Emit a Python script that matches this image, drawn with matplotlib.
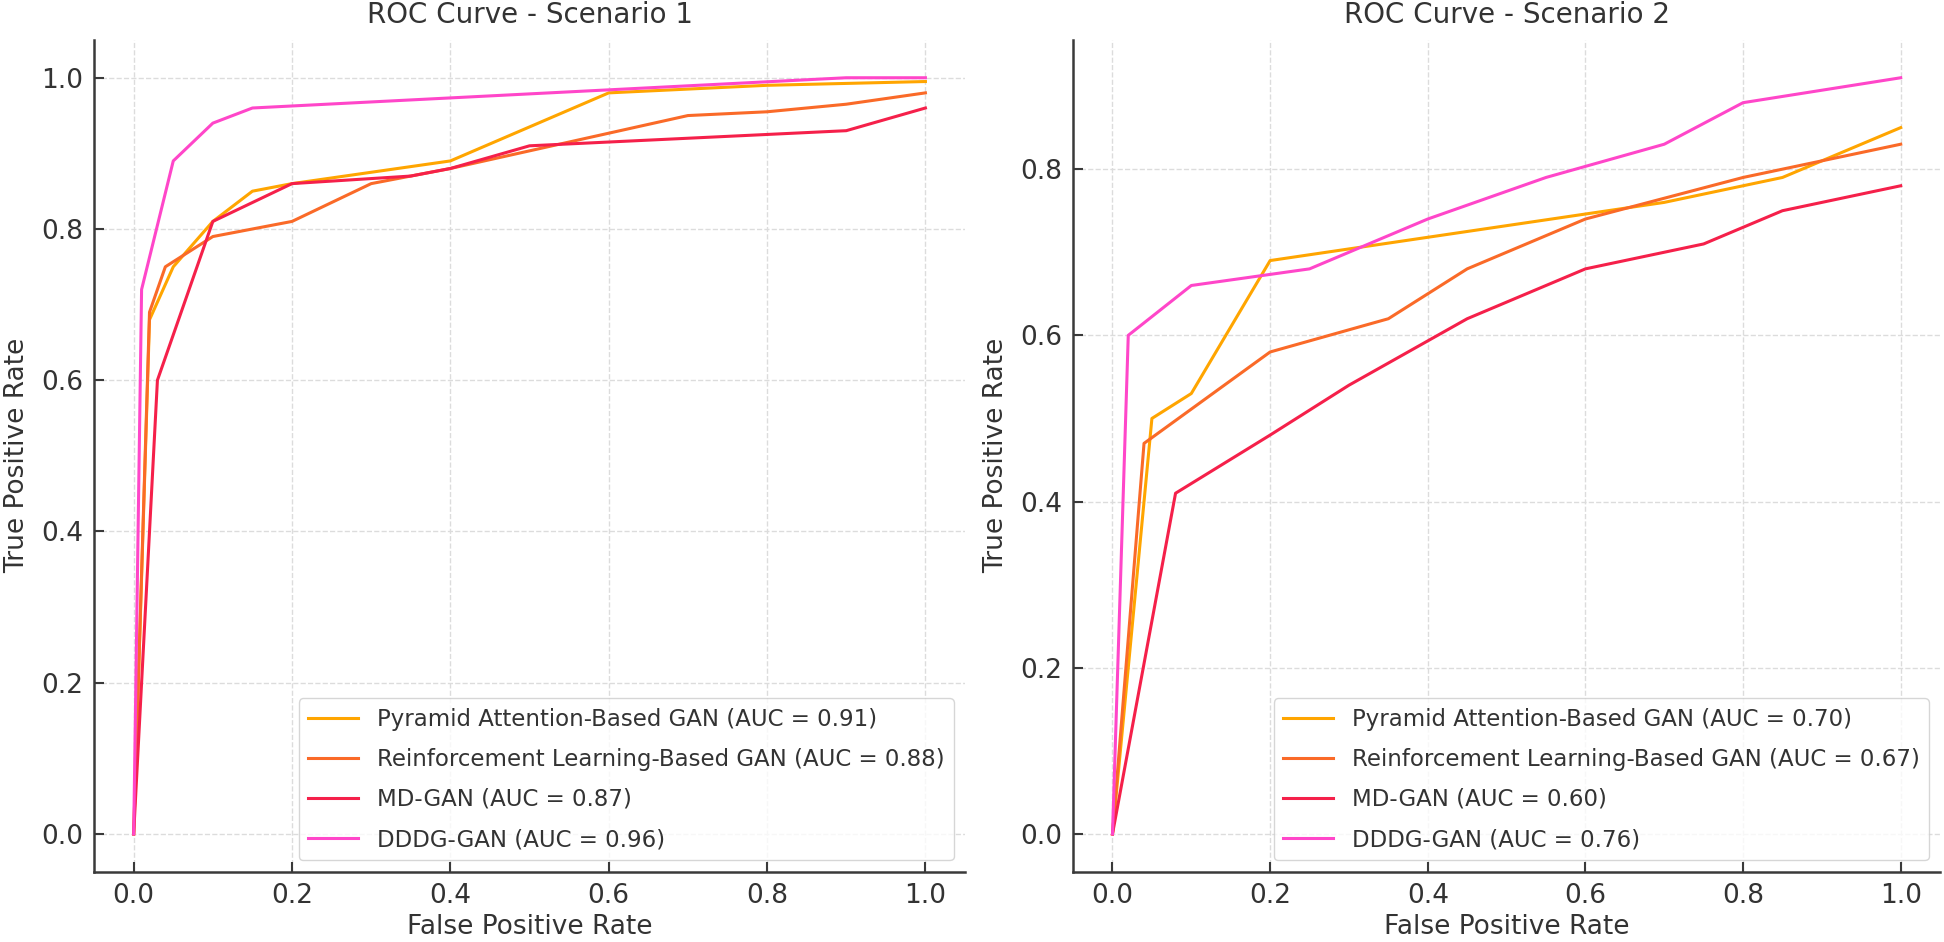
import numpy as np
import matplotlib.pyplot as plt

# Scenario 1
fpr_pag1 = [0, 0.02, 0.05, 0.1, 0.15, 0.2, 0.3, 0.4, 0.6, 0.8, 1.0]
tpr_pag1 = [0, 0.68, 0.75, 0.81, 0.85, 0.86, 0.875, 0.89, 0.98, 0.99, 0.995]
fpr_rl1 = [0, 0.02, 0.04, 0.1, 0.2, 0.3, 0.4, 0.7, 0.8, 0.9, 1.0]
tpr_rl1 = [0, 0.69, 0.75, 0.79, 0.81, 0.86, 0.88, 0.95, 0.955, 0.965, 0.98]
fpr_md1 = [0, 0.03, 0.1, 0.2, 0.35, 0.4, 0.5, 0.6, 0.9, 1.0]
tpr_md1 = [0, 0.60, 0.81, 0.86, 0.87, 0.88, 0.91, 0.915, 0.93, 0.96]
fpr_dddg1 = [0, 0.01, 0.05, 0.1, 0.15, 0.9, 1.0]
tpr_dddg1 = [0, 0.72, 0.89, 0.94, 0.96, 1.0, 1.0]
auc1 = [0.91, 0.88, 0.87, 0.96]

# Scenario 2
fpr_pag2 = [0, 0.05, 0.1, 0.2, 0.7, 0.85, 1.0]
tpr_pag2 = [0, 0.50, 0.53, 0.69, 0.76, 0.79, 0.85]
fpr_rl2 = [0, 0.04, 0.2, 0.35, 0.45, 0.6, 0.8, 1.0]
tpr_rl2 = [0, 0.47, 0.58, 0.62, 0.68, 0.74, 0.79, 0.83]
fpr_md2 = [0, 0.08, 0.2, 0.3, 0.45, 0.6, 0.75, 0.85, 1.0]
tpr_md2 = [0, 0.41, 0.48, 0.54, 0.62, 0.68, 0.71, 0.75, 0.78]
fpr_dddg2 = [0, 0.02, 0.1, 0.25, 0.4, 0.55, 0.7, 0.8, 1.0]
tpr_dddg2 = [0, 0.60, 0.66, 0.68, 0.74, 0.79, 0.83, 0.88, 0.91]
auc2 = [0.70, 0.67, 0.60, 0.76]

models = ['Pyramid Attention-Based GAN', 'Reinforcement Learning-Based GAN',
          'MD-GAN', 'DDDG-GAN']
colors = ['#FFA500', '#FA6A28', '#F5204A', '#FF46C9']

scenarios = [
    ('ROC Curve - Scenario 1',
     [(fpr_pag1, tpr_pag1), (fpr_rl1, tpr_rl1), (fpr_md1, tpr_md1), (fpr_dddg1, tpr_dddg1)],
     auc1),
    ('ROC Curve - Scenario 2',
     [(fpr_pag2, tpr_pag2), (fpr_rl2, tpr_rl2), (fpr_md2, tpr_md2), (fpr_dddg2, tpr_dddg2)],
     auc2),
]

txt = '#333333'
fig = plt.figure(figsize=(19.44, 9.42), dpi=100)
rects = [[0.0484, 0.0746, 0.448, 0.883], [0.552, 0.0746, 0.446, 0.883]]

for rect, (title, curves, aucs) in zip(rects, scenarios):
    ax = fig.add_axes(rect)
    for (fpr, tpr), name, auc, c in zip(curves, models, aucs, colors):
        ax.plot(fpr, tpr, color=c, lw=2.2, label=f'{name} (AUC = {auc:.2f})')
    ax.grid(True, ls='--', color='#dcdcdc', lw=1)
    ax.set_axisbelow(True)
    for s in ['top', 'right']:
        ax.spines[s].set_visible(False)
    for s in ['left', 'bottom']:
        ax.spines[s].set_color('#3a3a3a')
        ax.spines[s].set_linewidth(1.8)
    ax.tick_params(direction='in', length=7, width=1.5, colors='#3a3a3a',
                   labelsize=19, labelcolor=txt, pad=8)
    ax.set_xticks([0.0, 0.2, 0.4, 0.6, 0.8, 1.0])
    ax.set_title(title, fontsize=20, color=txt, pad=12)
    ax.set_xlabel('False Positive Rate', fontsize=19, color=txt, labelpad=4)
    ax.set_ylabel('True Positive Rate', fontsize=19, color=txt, labelpad=8)
    leg = ax.legend(loc='lower right', fontsize=16.5, framealpha=0.8,
                    edgecolor='#cccccc', handlelength=2.2, labelspacing=0.75,
                    borderaxespad=0.5)
    for t in leg.get_texts():
        t.set_color(txt)

fig.savefig('out.png', dpi=100)
